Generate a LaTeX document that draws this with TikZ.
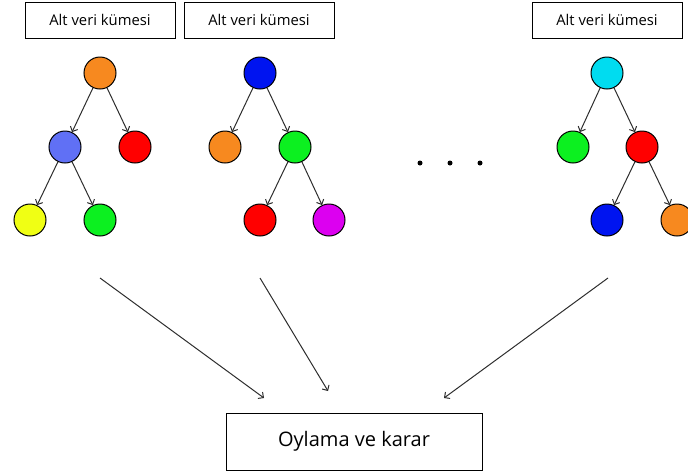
\documentclass[tikz,border=0pt]{standalone}
\usepackage{fontspec}
\setmainfont{Open Sans}
\usetikzlibrary{arrows.meta}
\definecolor{corange}{RGB}{247,137,31}
\definecolor{clav}{RGB}{96,112,245}
\definecolor{cred}{RGB}{255,0,0}
\definecolor{cyel}{RGB}{240,255,20}
\definecolor{cgreen}{RGB}{12,240,32}
\definecolor{cblue}{RGB}{0,20,240}
\definecolor{cpurp}{RGB}{220,0,240}
\definecolor{ccyan}{RGB}{0,220,240}
\definecolor{cline}{RGB}{45,45,45}
\begin{document}
\begin{tikzpicture}[x=1pt, y=-1pt,
    subset/.style={draw, line width=1pt, minimum width=150pt, minimum height=36pt, inner sep=0pt, font=\fontsize{14.8}{16}\selectfont},
    leaf/.style={circle, draw, line width=1pt, minimum size=32pt, inner sep=0pt},
    edge/.style={-{Straight Barb[length=4pt,width=8pt]}, cline, line width=1pt}]
    \useasboundingbox (0,0) rectangle (688,475);
    \node[subset] (sub1) at (100,20) {Alt veri kümesi};
    \node[subset] (sub2) at (259,20) {Alt veri kümesi};
    \node[subset] (sub3) at (607,20) {Alt veri kümesi};
    % first tree
    \node[leaf, fill=corange] (a1) at (100,73) {};
    \node[leaf, fill=clav] (a2) at (65,147) {};
    \node[leaf, fill=cred] (a3) at (135,147) {};
    \node[leaf, fill=cyel] (a4) at (30,220) {};
    \node[leaf, fill=cgreen] (a5) at (100,220) {};
    \draw[edge] (a1) -- (a2);
    \draw[edge] (a1) -- (a3);
    \draw[edge] (a2) -- (a4);
    \draw[edge] (a2) -- (a5);
    % second tree
    \node[leaf, fill=cblue] (b1) at (260,73) {};
    \node[leaf, fill=corange] (b2) at (225,147) {};
    \node[leaf, fill=cgreen] (b3) at (295,147) {};
    \node[leaf, fill=cred] (b4) at (260,220) {};
    \node[leaf, fill=cpurp] (b5) at (329,220) {};
    \draw[edge] (b1) -- (b2);
    \draw[edge] (b1) -- (b3);
    \draw[edge] (b3) -- (b4);
    \draw[edge] (b3) -- (b5);
    % last tree
    \node[leaf, fill=ccyan] (c1) at (607,73) {};
    \node[leaf, fill=cgreen] (c2) at (573,147) {};
    \node[leaf, fill=cred] (c3) at (642,147) {};
    \node[leaf, fill=cblue] (c4) at (607,220) {};
    \node[leaf, fill=corange] (c5) at (677,220) {};
    \draw[edge] (c1) -- (c2);
    \draw[edge] (c1) -- (c3);
    \draw[edge] (c3) -- (c4);
    \draw[edge] (c3) -- (c5);
    % dots
    \foreach \x in {420,450,480}
        \fill (\x,163) circle (2.5);
    % voting
    \node[draw, line width=1pt, minimum width=256pt, minimum height=57pt, inner sep=0pt, font=\fontsize{20}{22}\selectfont] (vote) at (354,441.5) {Oylama ve karar};
    \coordinate (s1) at (100,278);
    \coordinate (s2) at (260,278);
    \coordinate (s3) at (608,278);
    \coordinate (e1) at (264,398);
    \coordinate (e2) at (328,391);
    \coordinate (e3) at (444,398);
    \draw[edge] (s1) -- (e1);
    \draw[edge] (s2) -- (e2);
    \draw[edge] (s3) -- (e3);
\end{tikzpicture}
\end{document}
